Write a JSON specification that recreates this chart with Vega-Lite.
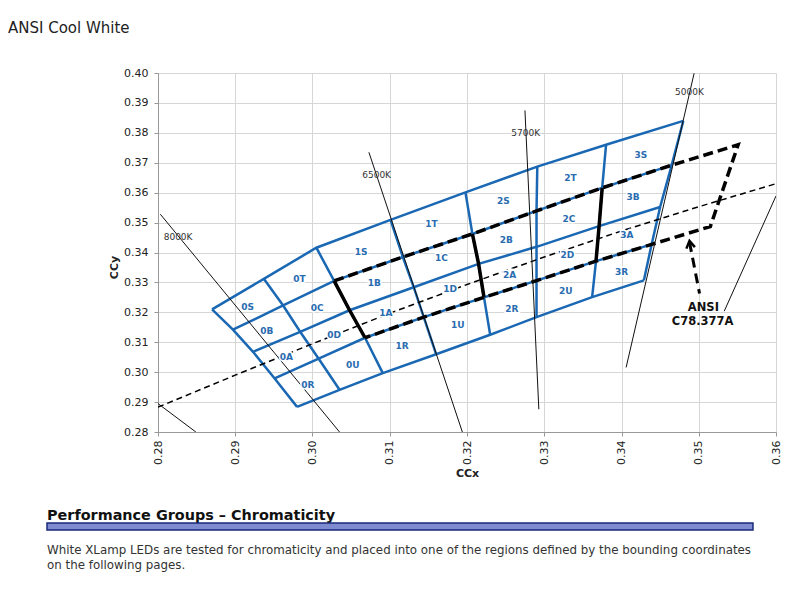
{
  "$schema": "https://vega.github.io/schema/vega-lite/v6.json",
  "width": 618,
  "height": 359,
  "autosize": {"type": "none"},
  "padding": {"left": 158, "top": 73, "right": 24, "bottom": 168},
  "background": "white",
  "title": {"text": "ANSI Cool White", "anchor": "start", "frame": "group", "dx": -150, "offset": 19, "baseline": "alphabetic", "fontSize": 15, "fontWeight": "normal", "color": "#222222", "font": "DejaVu Sans"},
  "config": {"view": {"stroke": null}, "font": "DejaVu Sans"},
  "datasets": {
    "nodes": [
      {"c":0,"r":0,"x":0.2870,"y":0.3210},{"c":0,"r":1,"x":0.2897,"y":0.3142},{"c":0,"r":2,"x":0.2923,"y":0.3068},{"c":0,"r":3,"x":0.2951,"y":0.2979},{"c":0,"r":4,"x":0.2980,"y":0.2884},
      {"c":1,"r":0,"x":0.2937,"y":0.3312},{"c":1,"r":1,"x":0.2962,"y":0.3223},{"c":1,"r":2,"x":0.2984,"y":0.3135},{"c":1,"r":3,"x":0.3008,"y":0.3045},{"c":1,"r":4,"x":0.3035,"y":0.2941},
      {"c":2,"r":0,"x":0.3005,"y":0.3416},{"c":2,"r":1,"x":0.3028,"y":0.3305},{"c":2,"r":2,"x":0.3048,"y":0.3207},{"c":2,"r":3,"x":0.3068,"y":0.3115},{"c":2,"r":4,"x":0.3091,"y":0.2997},
      {"c":3,"r":0,"x":0.3101,"y":0.3509},{"c":3,"r":1,"x":0.3117,"y":0.3385},{"c":3,"r":2,"x":0.3131,"y":0.3284},{"c":3,"r":3,"x":0.3144,"y":0.3184},{"c":3,"r":4,"x":0.3160,"y":0.3060},
      {"c":4,"r":0,"x":0.3198,"y":0.3601},{"c":4,"r":1,"x":0.3207,"y":0.3462},{"c":4,"r":2,"x":0.3215,"y":0.3362},{"c":4,"r":3,"x":0.3222,"y":0.3250},{"c":4,"r":4,"x":0.3230,"y":0.3125},
      {"c":5,"r":0,"x":0.3291,"y":0.3687},{"c":5,"r":1,"x":0.3290,"y":0.3539},{"c":5,"r":2,"x":0.3290,"y":0.3419},{"c":5,"r":3,"x":0.3290,"y":0.3306},{"c":5,"r":4,"x":0.3290,"y":0.3184},
      {"c":6,"r":0,"x":0.3380,"y":0.3760},{"c":6,"r":1,"x":0.3375,"y":0.3616},{"c":6,"r":2,"x":0.3371,"y":0.3488},{"c":6,"r":3,"x":0.3367,"y":0.3371},{"c":6,"r":4,"x":0.3362,"y":0.3251},
      {"c":7,"r":0,"x":0.3480,"y":0.3840},{"c":7,"r":1,"x":0.3465,"y":0.3692},{"c":7,"r":2,"x":0.3450,"y":0.3552},{"c":7,"r":3,"x":0.3439,"y":0.3427},{"c":7,"r":4,"x":0.3429,"y":0.3307}
    ],
    "ansi": [
      {"ord":0,"x":0.3028,"y":0.3305},{"ord":1,"x":0.3117,"y":0.3385},{"ord":2,"x":0.3207,"y":0.3462},{"ord":3,"x":0.3290,"y":0.3539},{"ord":4,"x":0.3375,"y":0.3616},{"ord":5,"x":0.3465,"y":0.3692},{"ord":6,"x":0.3551,"y":0.3760},
      {"ord":7,"x":0.3515,"y":0.3487},{"ord":8,"x":0.3439,"y":0.3427},{"ord":9,"x":0.3367,"y":0.3371},{"ord":10,"x":0.3290,"y":0.3306},{"ord":11,"x":0.3222,"y":0.3250},{"ord":12,"x":0.3144,"y":0.3184},{"ord":13,"x":0.3068,"y":0.3115}
    ],
    "planck": [
      {"ord":0,"x":0.2800,"y":0.2883},{"ord":1,"x":0.2900,"y":0.2990},{"ord":2,"x":0.3000,"y":0.3095},{"ord":3,"x":0.3100,"y":0.3197},{"ord":4,"x":0.3200,"y":0.3293},{"ord":5,"x":0.3300,"y":0.3385},{"ord":6,"x":0.3400,"y":0.3472},{"ord":7,"x":0.3500,"y":0.3553},{"ord":8,"x":0.3600,"y":0.3630}
    ],
    "iso": [
      {"seg":"8000K","ord":0,"x":0.2803,"y":0.3528},{"seg":"8000K","ord":1,"x":0.3035,"y":0.2800},
      {"seg":"6500K","ord":0,"x":0.3073,"y":0.3735},{"seg":"6500K","ord":1,"x":0.3194,"y":0.2800},
      {"seg":"5700K","ord":0,"x":0.3275,"y":0.3875},{"seg":"5700K","ord":1,"x":0.3293,"y":0.2876},
      {"seg":"5000K","ord":0,"x":0.3494,"y":0.3999},{"seg":"5000K","ord":1,"x":0.3406,"y":0.3016},
      {"seg":"callout","ord":0,"x":0.3600,"y":0.3589},{"seg":"callout","ord":1,"x":0.3533,"y":0.3204},
      {"seg":"low","ord":0,"x":0.2800,"y":0.2895},{"seg":"low","ord":1,"x":0.2849,"y":0.2800}
    ],
    "isoLabels": [
      {"label":"8000K","x":0.2826,"y":0.3452},{"label":"6500K","x":0.3083,"y":0.3658},{"label":"5700K","x":0.3276,"y":0.3799},{"label":"5000K","x":0.3488,"y":0.3936}
    ],
    "shaft": [{"ord":0,"x":0.3488,"y":0.3435},{"ord":1,"x":0.3501,"y":0.3263}],
    "head": [{"ord":0,"x":0.3484,"y":0.3413},{"ord":1,"x":0.3488,"y":0.3439},{"ord":2,"x":0.3495,"y":0.3418}],
    "ansiLabel": [{"label":"ANSI","x":0.3506,"y":0.3213},{"label":"C78.377A","x":0.3505,"y":0.3168}],
    "bins": [
      {"label":"0S","x":0.2916,"y":0.3218},{"label":"0T","x":0.2983,"y":0.3313},{"label":"0B","x":0.2941,"y":0.3138},{"label":"0C","x":0.3006,"y":0.3215},
      {"label":"0A","x":0.2966,"y":0.3051},{"label":"0D","x":0.3028,"y":0.3125},{"label":"0R","x":0.2994,"y":0.2956},{"label":"0U","x":0.3052,"y":0.3023},
      {"label":"1S","x":0.3063,"y":0.3402},{"label":"1T","x":0.3154,"y":0.3494},{"label":"1B","x":0.3080,"y":0.3298},{"label":"1C","x":0.3167,"y":0.3383},
      {"label":"1A","x":0.3095,"y":0.3198},{"label":"1D","x":0.3178,"y":0.3279},{"label":"1R","x":0.3116,"y":0.3088},{"label":"1U","x":0.3188,"y":0.3157},
      {"label":"2S","x":0.3247,"y":0.3571},{"label":"2T","x":0.3334,"y":0.3649},{"label":"2B","x":0.3251,"y":0.3441},{"label":"2C","x":0.3332,"y":0.3513},
      {"label":"2A","x":0.3255,"y":0.3326},{"label":"2D","x":0.3330,"y":0.3393},{"label":"2R","x":0.3258,"y":0.3210},{"label":"2U","x":0.3328,"y":0.3271},
      {"label":"3S","x":0.3425,"y":0.3727},{"label":"3B","x":0.3415,"y":0.3586},{"label":"3A","x":0.3407,"y":0.3458},{"label":"3R","x":0.3400,"y":0.3335}
    ],
    "heading": [{"label":"Performance Groups – Chromaticity","x":0.26563,"y":0.2506}],
    "band": [{"x":0.26563,"x2":0.35702,"y":0.24958,"y2":0.24725}],
    "paragraph": [
      {"label":"White XLamp LEDs are tested for chromaticity and placed into one of the regions defined by the bounding coordinates","x":0.26563,"y":0.23922},
      {"label":"on the following pages.","x":0.26563,"y":0.23421}
    ]
  },
  "encoding": {
    "x": {"field": "x", "type": "quantitative",
      "scale": {"domain": [0.28, 0.36], "nice": false, "zero": false},
      "axis": {"title": "CCx", "values": [0.28,0.29,0.30,0.31,0.32,0.33,0.34,0.35,0.36], "format": ".2f", "labelAngle": 270, "labelFlush": false, "labelOverlap": false,
        "labelFontSize": 11, "labelColor": "#222222", "labelPadding": 4, "tickSize": 4, "tickColor": "#999999", "domainColor": "#999999", "gridColor": "#d6d6d6",
        "titleFontSize": 11, "titleFontWeight": "bold", "titleColor": "#222222", "titlePadding": 3}},
    "y": {"field": "y", "type": "quantitative",
      "scale": {"domain": [0.28, 0.40], "nice": false, "zero": false},
      "axis": {"title": "CCy", "values": [0.28,0.29,0.30,0.31,0.32,0.33,0.34,0.35,0.36,0.37,0.38,0.39,0.40], "format": ".2f", "labelFlush": false, "labelOverlap": false,
        "labelFontSize": 11, "labelColor": "#222222", "labelPadding": 6, "tickSize": 4, "tickColor": "#999999", "domainColor": "#999999", "gridColor": "#d6d6d6",
        "titleFontSize": 11, "titleFontWeight": "bold", "titleColor": "#222222", "titlePadding": 4, "titleY": 194}}
  },
  "layer": [
    {"data": {"name": "nodes"}, "mark": {"type": "line", "color": "#1a68b3", "strokeWidth": 2.5},
     "encoding": {"detail": {"field": "r", "type": "nominal"}, "order": {"field": "c", "type": "quantitative"}}},
    {"data": {"name": "nodes"}, "mark": {"type": "line", "color": "#1a68b3", "strokeWidth": 2.5},
     "encoding": {"detail": {"field": "c", "type": "nominal"}, "order": {"field": "r", "type": "quantitative"}}},
    {"data": {"name": "nodes"}, "transform": [{"filter": "datum.r >= 1 && datum.r <= 3 && (datum.c == 2 || datum.c == 4 || datum.c == 6)"}],
     "mark": {"type": "line", "color": "#000000", "strokeWidth": 3.5},
     "encoding": {"detail": {"field": "c", "type": "nominal"}, "order": {"field": "r", "type": "quantitative"}}},
    {"data": {"name": "ansi"}, "mark": {"type": "line", "color": "#000000", "strokeWidth": 3.5, "strokeDash": [10, 5]},
     "encoding": {"order": {"field": "ord", "type": "quantitative"}}},
    {"data": {"name": "planck"}, "mark": {"type": "line", "color": "#000000", "strokeWidth": 1.5, "strokeDash": [6, 4], "clip": true},
     "encoding": {"order": {"field": "ord", "type": "quantitative"}}},
    {"data": {"name": "iso"}, "mark": {"type": "line", "color": "#111111", "strokeWidth": 1, "clip": true},
     "encoding": {"detail": {"field": "seg", "type": "nominal"}, "order": {"field": "ord", "type": "quantitative"}}},
    {"data": {"name": "shaft"}, "mark": {"type": "line", "color": "#000000", "strokeWidth": 3, "strokeDash": [10, 6]},
     "encoding": {"order": {"field": "ord", "type": "quantitative"}}},
    {"data": {"name": "head"}, "mark": {"type": "line", "color": "#000000", "strokeWidth": 2.5},
     "encoding": {"order": {"field": "ord", "type": "quantitative"}}},
    {"data": {"name": "bins"}, "mark": {"type": "text", "fontSize": 9, "fontWeight": "bold", "color": "white", "stroke": "white", "strokeWidth": 3, "align": "center", "baseline": "middle"},
     "encoding": {"text": {"field": "label", "type": "nominal"}}},
    {"data": {"name": "bins"}, "mark": {"type": "text", "fontSize": 9, "fontWeight": "bold", "color": "#2a6cb0", "align": "center", "baseline": "middle"},
     "encoding": {"text": {"field": "label", "type": "nominal"}}},
    {"data": {"name": "isoLabels"}, "mark": {"type": "text", "fontSize": 9, "color": "#333333", "align": "center", "baseline": "middle"},
     "encoding": {"text": {"field": "label", "type": "nominal"}}},
    {"data": {"name": "ansiLabel"}, "mark": {"type": "text", "fontSize": 11.5, "fontWeight": "bold", "color": "#111111", "align": "center", "baseline": "middle"},
     "encoding": {"text": {"field": "label", "type": "nominal"}}},
    {"data": {"name": "heading"}, "mark": {"type": "text", "fontSize": 14.4, "fontWeight": "bold", "color": "#111111", "align": "left", "baseline": "alphabetic"},
     "encoding": {"text": {"field": "label", "type": "nominal"}}},
    {"data": {"name": "band"}, "mark": {"type": "rect", "color": "#7f8bd1", "stroke": "#1a2a7a", "strokeWidth": 1.5},
     "encoding": {"x2": {"field": "x2"}, "y2": {"field": "y2"}}},
    {"data": {"name": "paragraph"}, "mark": {"type": "text", "fontSize": 11.85, "color": "#333333", "align": "left", "baseline": "alphabetic"},
     "encoding": {"text": {"field": "label", "type": "nominal"}}}
  ]
}
